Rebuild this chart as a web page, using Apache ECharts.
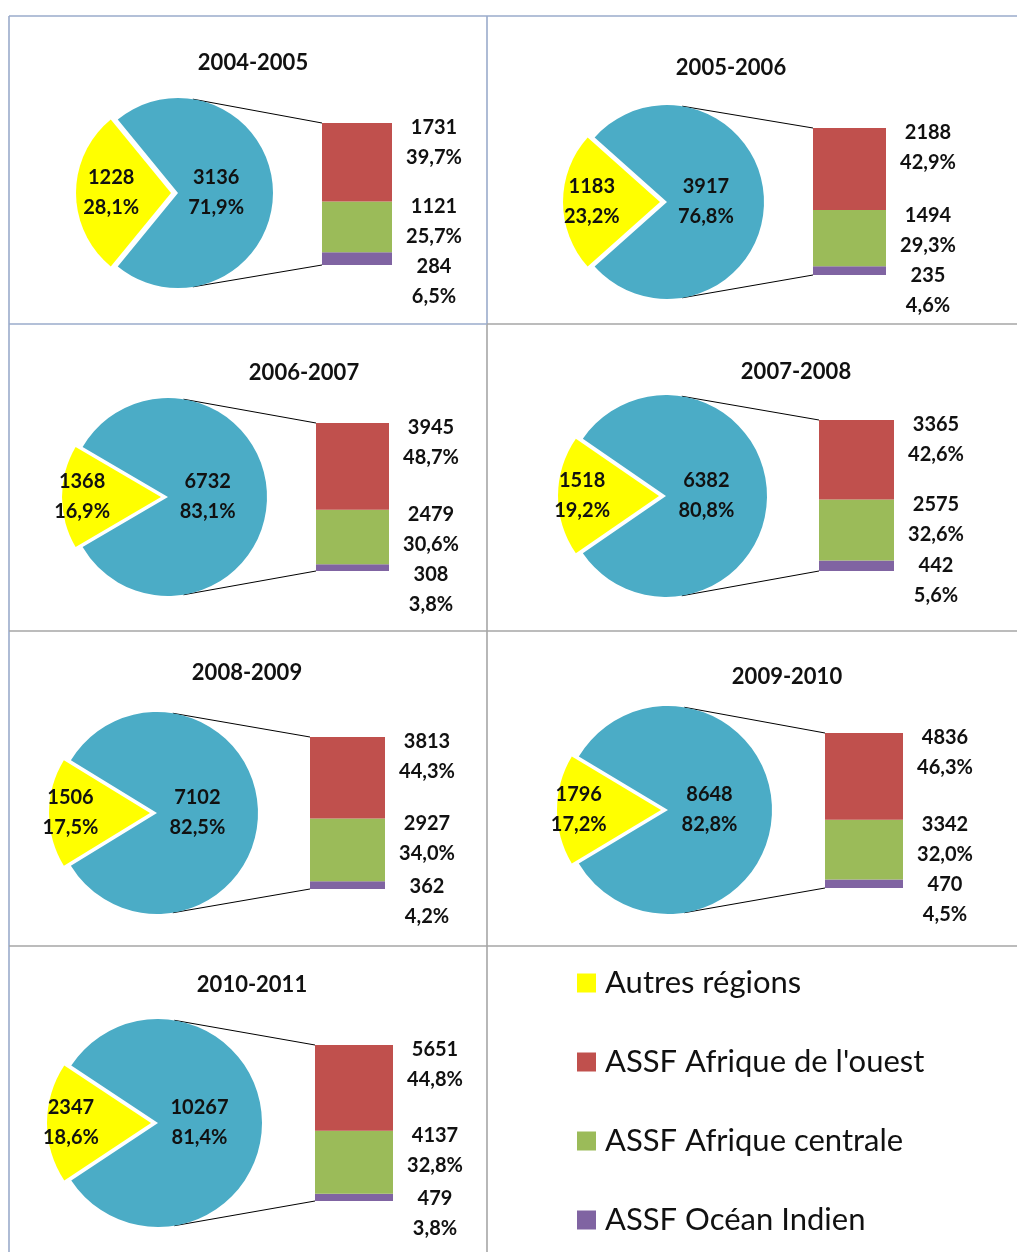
<!DOCTYPE html>
<html>
<head>
<meta charset="utf-8">
<script src="https://cdn.jsdelivr.net/npm/echarts@6/dist/echarts.min.js"></script>
<style>
  html, body { margin: 0; padding: 0; background: #fff; }
  #chart { width: 1017px; height: 1252px; }
</style>
</head>
<body>
<div id="chart"></div>
<script>
// data
const periods = ['2004-2005', '2005-2006', '2006-2007', '2007-2008', '2008-2009', '2009-2010', '2010-2011'];
const autresRegions = [1228, 1183, 1368, 1518, 1506, 1796, 2347];
const assfTotal = [3136, 3917, 6732, 6382, 7102, 8648, 10267];
const afriqueOuest = [1731, 2188, 3945, 3365, 3813, 4836, 5651];
const afriqueCentrale = [1121, 1494, 2479, 2575, 2927, 3342, 4137];
const oceanIndien = [284, 235, 308, 442, 362, 470, 479];

const NAME_AUTRES = 'Autres régions';
const NAME_OUEST = "ASSF Afrique de l'ouest";
const NAME_CENTRALE = 'ASSF Afrique centrale';
const NAME_INDIEN = 'ASSF Océan Indien';

const YELLOW = '#FFFF00';
const BLUE = '#4BACC6';
const RED = '#C0504D';
const GREEN = '#9BBB59';
const PURPLE = '#8064A2';
const INK = '#111111';
const FONT = 'Lato, "Open Sans", sans-serif';

// where each panel sits: pie centre / radius, bar rectangle, title anchor
const panels = [
  { cx: 178, cy: 193, r: 95, bx: 322, by: 123, bw: 70, bh: 142, tx: 253, ty: 63 },
  { cx: 667, cy: 202, r: 97, bx: 813, by: 128, bw: 73, bh: 147, tx: 731, ty: 68 },
  { cx: 168, cy: 497, r: 99, bx: 316, by: 423, bw: 73, bh: 148, tx: 304, ty: 373 },
  { cx: 666, cy: 496, r: 101, bx: 819, by: 420, bw: 75, bh: 151, tx: 796, ty: 372 },
  { cx: 157, cy: 813, r: 101, bx: 310, by: 737, bw: 75, bh: 152, tx: 247, ty: 673 },
  { cx: 668, cy: 810, r: 104, bx: 825, by: 733, bw: 78, bh: 155, tx: 787, ty: 677 },
  { cx: 158, cy: 1123, r: 104, bx: 315, by: 1045, bw: 78, bh: 156, tx: 252, ty: 985 }
];

const LABEL_LINE = 30;
const LABEL_DX = 42;   // label centre, right of the bar
const LABEL_DY = -10;  // first line sits near the top of its segment

function pct(v, total) {
  return (v / total * 100).toFixed(1).replace('.', ',') + '%';
}

const labelFont = {
  fontFamily: FONT, fontWeight: 'bold', fontSize: 20, lineHeight: LABEL_LINE, color: INK
};

const chart = echarts.init(document.getElementById('chart'));

const grid = [], xAxis = [], yAxis = [], series = [], graphic = [];

// table borders
const blueLine = '#9AABCB', grayLine = '#A6A6A6';
function hline(y, x1, x2, c) {
  graphic.push({ type: 'line', silent: true, shape: { x1: x1, y1: y, x2: x2, y2: y }, style: { stroke: c, lineWidth: 1.6 } });
}
function vline(x, y1, y2, c) {
  graphic.push({ type: 'line', silent: true, shape: { x1: x, y1: y1, x2: x, y2: y2 }, style: { stroke: c, lineWidth: 1.6 } });
}
hline(16, 9, 1017, blueLine);
vline(9, 16, 1252, blueLine);
vline(487, 16, 324, blueLine);
vline(487, 324, 1252, grayLine);
hline(324, 9, 487, blueLine);
hline(324, 487, 1017, grayLine);
hline(631, 9, 1017, grayLine);
hline(946, 9, 1017, grayLine);

periods.forEach(function (period, i) {
  const L = panels[i];
  const total = autresRegions[i] + assfTotal[i];
  const share = autresRegions[i] / total;

  graphic.push({
    type: 'text', silent: true, x: L.tx, y: L.ty,
    style: { text: period, align: 'center', verticalAlign: 'middle',
      fontFamily: FONT, fontWeight: 'bold', fontSize: 22, fill: INK }
  });

  // connector lines from the pie to the bar
  const a = 9 * Math.PI / 180;
  const px = L.cx + L.r * Math.sin(a);
  graphic.push({ type: 'line', silent: true,
    shape: { x1: px, y1: L.cy - L.r * Math.cos(a), x2: L.bx, y2: L.by },
    style: { stroke: '#000', lineWidth: 1 } });
  graphic.push({ type: 'line', silent: true,
    shape: { x1: px, y1: L.cy + L.r * Math.cos(a), x2: L.bx, y2: L.by + L.bh },
    style: { stroke: '#000', lineWidth: 1 } });

  series.push({
    type: 'pie',
    center: [L.cx, L.cy],
    radius: L.r,
    startAngle: 180 + share * 180,
    clockwise: true,
    selectedMode: 'single',
    selectedOffset: 7,
    animation: false,
    emphasis: { disabled: true },
    itemStyle: { borderWidth: 0 },
    select: { itemStyle: { color: YELLOW, borderWidth: 0 } },
    label: Object.assign({
      show: true, position: 'inside',
      formatter: function (p) { return p.value + '\n' + pct(p.value, total); }
    }, labelFont),
    labelLine: { show: false },
    // Excel puts the labels further out in a thin slice, a bit inward in the big one
    labelLayout: function (p) {
      if (p.dataIndex === 0) return { dx: -(0.52 - 1.5 * share) * L.r };
      return { dx: -0.13 * L.r };
    },
    data: [
      { name: NAME_AUTRES, value: autresRegions[i], selected: true, itemStyle: { color: YELLOW } },
      { name: 'ASSF', value: assfTotal[i], itemStyle: { color: BLUE } }
    ]
  });

  grid.push({ left: L.bx, top: L.by, width: L.bw, height: L.bh, outerBoundsMode: 'none' });
  xAxis.push({ gridIndex: i, type: 'category', data: [period], show: false });
  yAxis.push({ gridIndex: i, type: 'value', min: 0, max: assfTotal[i], show: false });

  // stack order bottom -> top
  const stackVals = [oceanIndien[i], afriqueCentrale[i], afriqueOuest[i]];
  const stackDefs = [[NAME_INDIEN, PURPLE], [NAME_CENTRALE, GREEN], [NAME_OUEST, RED]];

  stackDefs.forEach(function (d, k) {
    series.push({
      type: 'bar',
      name: d[0],
      xAxisIndex: i,
      yAxisIndex: i,
      stack: 'assf' + i,
      barWidth: '100%',
      animation: false,
      emphasis: { disabled: true },
      itemStyle: { color: d[1] },
      label: Object.assign({
        show: true,
        position: ['100%', 0],
        align: 'center',
        verticalAlign: 'top',
        formatter: function (p) { return p.value + '\n' + pct(p.value, total); }
      }, labelFont),
      // move the label right of the bar and keep the three labels from overlapping
      labelLayout: function (p) {
        const unit = p.rect.height / stackVals[k];
        let below = 0;
        for (let j = 0; j < k; j++) below += stackVals[j];
        const barBottom = p.rect.y + p.rect.height + below * unit;
        let cum = 0;
        const tops = [];
        for (let j = 0; j < stackVals.length; j++) { cum += stackVals[j]; tops[j] = barBottom - cum * unit + LABEL_DY; }
        let top = null;
        for (let j = stackVals.length - 1; j >= k; j--) {
          top = top === null ? tops[j] : Math.max(tops[j], top + 2 * LABEL_LINE);
        }
        return { dx: LABEL_DX, dy: top - tops[k] + LABEL_DY };
      },
      data: [stackVals[k]]
    });
  });
});

chart.setOption({
  animation: false,
  backgroundColor: '#fff',
  grid: grid,
  xAxis: xAxis,
  yAxis: yAxis,
  legend: {
    data: [NAME_AUTRES, NAME_OUEST, NAME_CENTRALE, NAME_INDIEN],
    orient: 'vertical',
    left: 577,
    top: 967,
    padding: 0,
    itemGap: 47,
    itemWidth: 19,
    itemHeight: 19,
    icon: 'rect',
    selectedMode: false,
    textStyle: { fontFamily: FONT, fontSize: 31, lineHeight: 32, color: INK, padding: [0, 0, 0, 4] }
  },
  graphic: graphic,
  series: series
});
</script>
</body>
</html>
